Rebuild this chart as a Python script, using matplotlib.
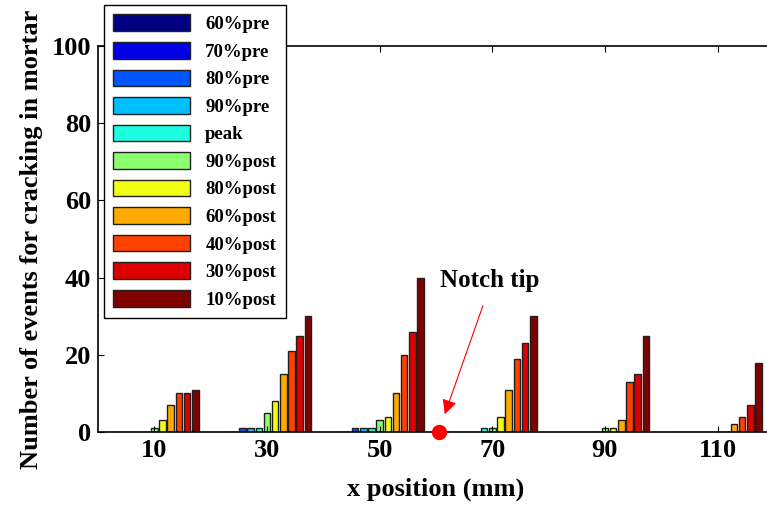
import matplotlib.pyplot as plt
import numpy as np

plt.rcParams['font.family'] = ['Liberation Serif', 'DejaVu Serif']
plt.rcParams['font.weight'] = 'bold'

# positions des groupes (mm)
positions = [10, 30, 50, 70, 90, 110]
series = ['60%pre', '70%pre', '80%pre', '90%pre', 'peak', '90%post',
          '80%post', '60%post', '40%post', '30%post', '10%post']
couleurs = ['#000080', '#0000E6', '#0055FF', '#00BFFF', '#1EFFE0', '#8CFF6E',
            '#F0FF14', '#FFAA00', '#FF4000', '#DC0000', '#800000']

# nombre d'evenements, une ligne par serie, une colonne par position
valeurs = [
    [0, 0, 0, 0, 0, 0],     # 60%pre
    [0, 0, 0, 0, 0, 0],     # 70%pre
    [0, 1, 1, 0, 0, 0],     # 80%pre
    [0, 1, 1, 0, 0, 0],     # 90%pre
    [0, 1, 1, 1, 0, 0],     # peak
    [1, 5, 3, 1, 1, 0],     # 90%post
    [3, 8, 4, 4, 1, 0],     # 80%post
    [7, 15, 10, 11, 3, 2],  # 60%post
    [10, 21, 20, 19, 13, 4],  # 40%post
    [10, 25, 26, 23, 15, 7],  # 30%post
    [11, 30, 40, 30, 25, 18],  # 10%post
]

entaille = (60.5, 0)

fig = plt.figure(figsize=(7.67, 5.07), dpi=100)
ax = fig.add_axes([0.1278, 0.148, 0.8812, 0.761])

pas = 16 / len(series)
for i in range(len(series)):
    x = np.array(positions) + (i - 5) * pas
    ax.bar(x, valeurs[i], width=pas * 0.8, color=couleurs[i],
           edgecolor='#202020', linewidth=1, label=series[i])

ax.plot(entaille[0], entaille[1], 'o', color='red', markersize=10, clip_on=False, zorder=5)
ax.annotate('', xy=(61.4, 3.9), xytext=(68.5, 33.4),
            arrowprops=dict(arrowstyle='-|>', color='red', lw=0.8, mutation_scale=22))
ax.text(69.6, 39.2, 'Notch tip', ha='center', va='center', fontsize=18, fontweight='bold')

ax.set_xlim(0, 120)
ax.set_ylim(0, 100)
ax.set_xticks(positions)
ax.set_yticks([0, 20, 40, 60, 80, 100])
ax.tick_params(direction='in', top=True, right=False, labelsize=19, length=4, width=0.8, pad=5)
for s in ax.spines.values():
    s.set_linewidth(1.2)

ax.set_xlabel('x position (mm)', fontsize=19, fontweight='bold', labelpad=11)
ax.set_ylabel('Number of events for cracking in mortar', fontsize=19, fontweight='bold', labelpad=6)

leg = ax.legend(loc='upper left', bbox_to_anchor=(0.1356, 0.99), bbox_transform=fig.transFigure,
                fontsize=13.5, handlelength=4.1, handleheight=1.0, labelspacing=0.465,
                fancybox=False, framealpha=1, edgecolor='black', borderpad=0.5,
                handletextpad=0.8, borderaxespad=0)
leg.get_frame().set_linewidth(1)
leg.set_zorder(10)
leg.set_clip_on(False)

plt.savefig('out.png', dpi=100)
